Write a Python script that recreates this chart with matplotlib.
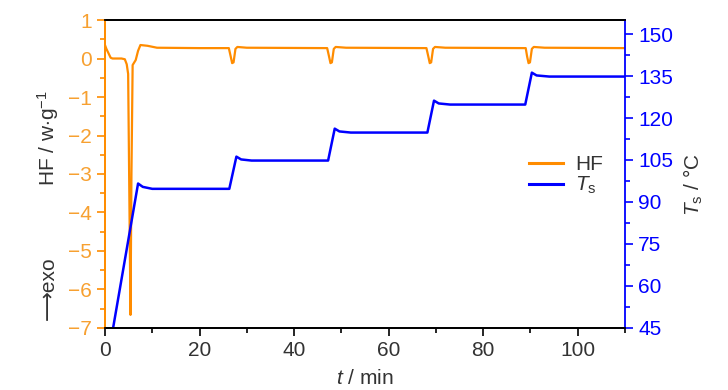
import matplotlib
matplotlib.use("Agg")
import matplotlib.pyplot as plt
from matplotlib.lines import Line2D
from matplotlib.ticker import MultipleLocator

plt.rcParams["font.family"] = ["Liberation Sans", "DejaVu Sans"]
plt.rcParams["mathtext.fontset"] = "custom"
plt.rcParams["mathtext.rm"] = "Liberation Sans"
plt.rcParams["mathtext.it"] = "Liberation Sans:italic"

# heat flow trace
hf_time = [0, 0.3, 1.2, 1.6, 3.5, 4.2, 4.6, 4.9, 5.15, 5.4, 5.6, 5.85, 6.5,
           7.0, 7.5, 9, 11, 20, 26.2, 26.6, 26.9, 27.2, 27.6, 28.0, 30,
           47.0, 47.4, 47.7, 48.0, 48.4, 48.8, 51,
           68.0, 68.4, 68.7, 69.0, 69.4, 69.8, 72,
           89.0, 89.3, 89.6, 89.9, 90.3, 90.7, 93, 110]
hf_value = [0.35, 0.25, 0.02, 0.0, 0.0, -0.02, -0.15, -0.4, -3.5, -6.66, -3.0, -0.17, -0.04,
            0.2, 0.35, 0.33, 0.28, 0.27, 0.27, 0.05, -0.12, -0.1, 0.25, 0.3, 0.28,
            0.27, 0.05, -0.12, -0.1, 0.25, 0.3, 0.28,
            0.27, 0.05, -0.12, -0.1, 0.25, 0.3, 0.28,
            0.27, 0.05, -0.12, -0.1, 0.25, 0.3, 0.28, 0.27]

# sample temperature
ts_time = [1.0, 7.0, 8.0, 10, 26.3, 27.8, 28.8, 31, 47.2, 48.6, 49.6, 52,
           68.2, 69.6, 70.6, 73, 88.9, 90.3, 91.3, 94, 110]
ts_value = [38.0, 96.6, 95.4, 94.7, 94.7, 106.2, 105.2, 104.8, 104.8, 116.2, 115.2, 114.8,
            114.8, 126.2, 125.2, 124.8, 124.8, 136.2, 135.2, 134.8, 134.8]

orange = "#FF8C00"
orange_txt = "#F7A030"
blue = "#0000FF"
gray = "#333333"

fig = plt.figure(figsize=(7.28, 3.9), dpi=100)
ax = fig.add_axes([0.1442, 0.159, 0.7143, 0.7897])
ax2 = ax.twinx()

ax.plot(hf_time, hf_value, color=orange, lw=1.6)
ax2.plot(ts_time, ts_value, color=blue, lw=1.8)

ax.set_xlim(0, 110)
ax.set_ylim(-7, 1)
ax2.set_ylim(45, 155)

ax.xaxis.set_major_locator(MultipleLocator(20))
ax.xaxis.set_minor_locator(MultipleLocator(10))
ax.yaxis.set_major_locator(MultipleLocator(1))
ax.yaxis.set_minor_locator(MultipleLocator(0.5))
ax2.yaxis.set_minor_locator(MultipleLocator(7.5))
ax2.set_yticks([45, 60, 75, 90, 105, 120, 135, 150])

for a in (ax, ax2):
    a.tick_params(which="major", length=6, width=1.2, labelsize=15)
    a.tick_params(which="minor", length=3.5, width=1.2)
    for s in a.spines.values():
        s.set_linewidth(1.3)

ax.tick_params(axis="x", which="both", colors="black", labelcolor=gray)
ax.tick_params(axis="y", which="both", colors=orange, labelcolor=orange_txt)
ax2.tick_params(axis="y", which="both", colors=blue, labelcolor=blue)
ax.spines["left"].set_color(orange)
ax2.spines["left"].set_color(orange)
ax2.spines["right"].set_color(blue)
ax.spines["right"].set_visible(False)

handles = [Line2D([], [], color=orange, lw=2.2), Line2D([], [], color=blue, lw=2.2)]
ax2.legend(handles, ["HF", r"$T_{\mathrm{s}}$"], loc="center left",
           bbox_to_anchor=(0.78, 0.495), frameon=False, fontsize=15,
           handlelength=1.6, handletextpad=0.6, labelspacing=0.05,
           labelcolor=gray)

fig.text(0.501, 0.03, r"$t$ / min", ha="center", va="center", fontsize=15, color=gray)
fig.text(0.066, 0.646, r"HF / w$\cdot$g$^{-1}$", rotation=90, ha="center", va="center",
         fontsize=15, color=gray)
fig.text(0.066, 0.262, "\u27f6exo", rotation=90, ha="center", va="center",
         fontsize=15, color=gray)
fig.text(0.953, 0.526, r"$T_{\mathrm{s}}$ / °C", rotation=90, ha="center", va="center",
         fontsize=15, color=gray)

fig.savefig("out.png", dpi=100)
